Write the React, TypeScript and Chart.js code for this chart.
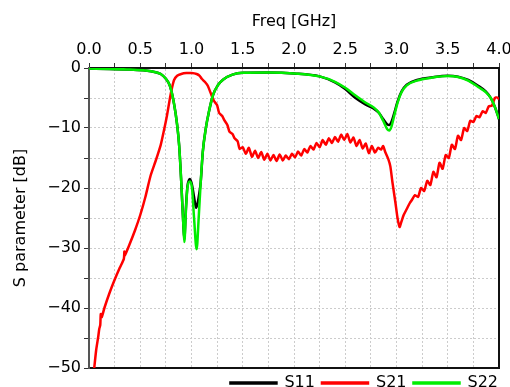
import React, { useEffect, useRef } from "react";
import { Chart, registerables } from "chart.js";

Chart.register(...registerables);

// ---- Data ----
const seriesNames = ["S11", "S21", "S22"];

const s22Freq = [0.0, 0.2, 0.4, 0.55, 0.65, 0.7, 0.75, 0.79, 0.83, 0.86, 0.88, 0.9, 0.92, 0.93, 0.945, 0.96, 0.985, 1.005, 1.025, 1.05, 1.07, 1.09, 1.11, 1.14, 1.17, 1.21, 1.26, 1.31, 1.4, 1.5, 1.75, 2.0, 2.25, 2.4, 2.5, 2.6, 2.7, 2.78, 2.83, 2.87, 2.91, 2.93, 2.95, 2.98, 3.01, 3.05, 3.1, 3.2, 3.35, 3.5, 3.6, 3.7, 3.8, 3.87, 3.92, 3.96, 4.0];
const s22Values = [-0.1, -0.15, -0.25, -0.4, -0.7, -1.0, -1.8, -3.0, -6.0, -9.5, -13.0, -19, -26, -29, -24, -20, -18.9, -20, -25, -30.2, -25, -19, -14, -10, -7.3, -4.5, -2.8, -1.9, -1.1, -0.8, -0.75, -0.9, -1.4, -2.3, -3.3, -4.6, -5.8, -6.6, -7.5, -8.8, -10.2, -10.4, -9.8, -7.8, -5.8, -4.0, -2.9, -2.1, -1.6, -1.35, -1.5, -2.1, -3.2, -4.0, -5.0, -6.5, -8.5];

const s11Freq = [0.0, 0.2, 0.4, 0.55, 0.65, 0.7, 0.75, 0.79, 0.83, 0.86, 0.88, 0.9, 0.92, 0.93, 0.945, 0.96, 0.985, 1.005, 1.025, 1.045, 1.06, 1.075, 1.09, 1.11, 1.14, 1.17, 1.21, 1.26, 1.31, 1.4, 1.5, 1.75, 2.0, 2.25, 2.4, 2.5, 2.6, 2.7, 2.78, 2.83, 2.87, 2.91, 2.93, 2.95, 2.98, 3.01, 3.05, 3.1, 3.2, 3.35, 3.5, 3.6, 3.7, 3.8, 3.87, 3.92, 3.96, 4.0];
const s11Values = [-0.1, -0.15, -0.25, -0.4, -0.7, -1.0, -1.8, -3.0, -6.0, -9.5, -13.0, -19, -26, -28.5, -23.5, -19.8, -18.5, -19.5, -21.5, -23.3, -22.5, -21, -19, -14, -10, -7.3, -4.5, -2.8, -1.9, -1.1, -0.8, -0.75, -0.9, -1.4, -2.4, -3.5, -5.0, -6.1, -6.8, -7.5, -8.5, -9.4, -9.5, -9.0, -7.4, -5.6, -3.9, -2.8, -2.0, -1.55, -1.3, -1.45, -2.0, -3.0, -3.9, -5.0, -6.5, -8.5];

const s21Freq = [0.045, 0.07, 0.09, 0.1, 0.11, 0.115, 0.125, 0.15, 0.2, 0.25, 0.3, 0.34, 0.345, 0.35, 0.4, 0.45, 0.5, 0.55, 0.6, 0.65, 0.7, 0.73, 0.76, 0.79, 0.81, 0.83, 0.86, 0.9, 0.95, 1.0, 1.05, 1.08, 1.1, 1.13, 1.16, 1.19, 1.22, 1.25, 1.27, 1.3, 1.32, 1.35, 1.37, 1.4, 1.42, 1.45, 1.47, 1.5, 1.53, 1.56, 1.59, 1.62, 1.65, 1.68, 1.71, 1.74, 1.77, 1.8, 1.83, 1.86, 1.89, 1.92, 1.95, 1.98, 2.01, 2.04, 2.07, 2.1, 2.13, 2.16, 2.19, 2.22, 2.25, 2.28, 2.31, 2.34, 2.37, 2.4, 2.43, 2.46, 2.49, 2.52, 2.55, 2.58, 2.61, 2.64, 2.67, 2.7, 2.73, 2.76, 2.79, 2.82, 2.85, 2.87, 2.89, 2.92, 2.94, 2.96, 2.99, 3.01, 3.03, 3.05, 3.07, 3.1, 3.13, 3.15, 3.18, 3.21, 3.24, 3.27, 3.3, 3.33, 3.36, 3.39, 3.42, 3.45, 3.48, 3.51, 3.54, 3.57, 3.6, 3.63, 3.66, 3.69, 3.72, 3.75, 3.78, 3.81, 3.84, 3.87, 3.9, 3.93, 3.96, 3.98, 4.0];
const s21Values = [-51, -47, -44.8, -43.5, -42.8, -41, -41.5, -40, -37.5, -35.3, -33.3, -31.8, -30.6, -31.2, -29.2, -27, -24.5, -21.5, -18, -15.5, -12.8, -10.5, -8, -5, -3.3, -2, -1.3, -1.0, -0.85, -0.85, -1.0, -1.3, -1.8, -2.3, -3, -4.3, -5.5, -6.2, -7.5, -8, -8.7, -9.5, -10.6, -11, -11.7, -12.2, -13.5, -13.2, -14.3, -13.3, -14.8, -13.8, -15.0, -14.0, -15.3, -14.3, -15.4, -14.5, -15.5, -14.4, -15.4, -14.6, -15.2, -14.3, -14.9, -13.9, -14.6, -13.5, -14.1, -13.0, -13.6, -12.5, -13.2, -12.0, -12.8, -11.7, -12.5, -11.5, -12.3, -11.1, -12.0, -11.0, -12.4, -11.6, -13.0, -12.0, -13.4, -12.6, -14.2, -13.0, -14.1, -13.3, -13.6, -13.0, -14.0, -15.2, -16.4, -19, -22.5, -25, -26.5, -25.5, -24.5, -23.5, -22.5, -22, -21.2, -21.5, -20.0, -20.5, -18.8, -19.5, -17.3, -18.2, -15.8, -16.8, -14.5, -15.0, -12.8, -13.5, -11.3, -12.0, -10.0, -10.5, -8.8, -9.0, -8.0, -8.2, -7.2, -7.5, -6.4, -6.3, -5.0, -4.9, -5.2];

const xTickStep = 0.25;
const yTickStep = 5;
const xMin = 0;
const xMax = 4;
const yMin = -50;
const yMax = 0;

const FONT = "'DejaVu Sans', sans-serif";

function toPoints(xs: number[], ys: number[]) {
  return xs.map((x, i) => ({ x, y: ys[i] }));
}

export default function App() {
  const ref = useRef<HTMLCanvasElement | null>(null);
  useEffect(() => {
    if (!ref.current) return;
    const gridCommon = {
      color: "#cccccc",
      lineWidth: 1,
      tickColor: "#333",
      tickBorderDash: [],
      tickLength: 5,
      tickWidth: 1,
    };
    const chart = new Chart(ref.current, {
      type: "line",
      data: {
        datasets: [
          {
            label: seriesNames[0],
            data: toPoints(s11Freq, s11Values),
            borderColor: "#000000",
            backgroundColor: "#000000",
            borderWidth: 2.5,
            pointRadius: 0,
            cubicInterpolationMode: "monotone",
            order: 2,
          },
          {
            label: seriesNames[1],
            data: toPoints(s21Freq, s21Values),
            borderColor: "#ff0000",
            backgroundColor: "#ff0000",
            borderWidth: 2.5,
            pointRadius: 0,
            tension: 0.2,
            order: 1,
          },
          {
            label: seriesNames[2],
            data: toPoints(s22Freq, s22Values),
            borderColor: "#00ee00",
            backgroundColor: "#00ee00",
            borderWidth: 2.5,
            pointRadius: 0,
            cubicInterpolationMode: "monotone",
            order: 0,
          },
        ],
      },
      options: {
        animation: false,
        responsive: false,
        layout: { padding: { left: 0, right: 5, top: 0, bottom: 0 } },
        plugins: {
          tooltip: { enabled: false },
          legend: {
            display: true,
            position: "bottom",
            align: "end",
            maxHeight: 19,
            labels: {
              boxWidth: 46,
              boxHeight: 1,
              padding: 7,
              color: "#000",
              font: { family: FONT, size: 16 },
              sort: (a: any, b: any) => a.datasetIndex - b.datasetIndex,
            },
          },
        },
        scales: {
          x: {
            type: "linear",
            position: "top",
            min: xMin,
            max: xMax,
            afterFit: (s: any) => {
              s.height = 68;
              s.paddingLeft = 0;
              s.paddingRight = 11;
            },
            ticks: {
              stepSize: xTickStep,
              autoSkip: false,
              maxRotation: 0,
              color: "#000",
              padding: 4,
              font: { family: FONT, size: 16 },
              callback: (v: any) => (Math.abs((v as number) * 2 - Math.round((v as number) * 2)) < 1e-6 ? (v as number).toFixed(1) : ""),
            },
            grid: gridCommon as any,
            border: { display: true, color: "#111", width: 2, dash: [2, 2] },
            title: {
              display: true,
              text: "Freq [GHz]",
              color: "#000",
              font: { family: FONT, size: 16 },
              padding: { top: 12, bottom: 0 },
            },
          },
          x2: {
            type: "linear",
            position: "bottom",
            min: xMin,
            max: xMax,
            afterFit: (s: any) => {
              s.height = 0;
              s.paddingLeft = 0;
              s.paddingRight = 0;
            },
            ticks: { display: false },
            grid: { display: false, drawTicks: false },
            border: { display: true, color: "#111", width: 2 },
          },
          y: {
            type: "linear",
            position: "left",
            min: yMin,
            max: yMax,
            afterFit: (s: any) => {
              s.width = 89;
            },
            ticks: {
              stepSize: yTickStep,
              autoSkip: false,
              color: "#000",
              padding: 3,
              font: { family: FONT, size: 16 },
              callback: (v: any) => {
                const n = v as number;
                if (n % 10 !== 0) return "";
                return n < 0 ? "\u2212" + Math.abs(n) : String(n);
              },
            },
            grid: gridCommon as any,
            border: { display: true, color: "#555", width: 2, dash: [2, 2] },
            title: {
              display: true,
              text: "S parameter [dB]",
              color: "#000",
              font: { family: FONT, size: 16 },
              padding: { top: 11, bottom: 0 },
            },
          },
          y2: {
            type: "linear",
            position: "right",
            min: yMin,
            max: yMax,
            afterFit: (s: any) => {
              s.width = 0;
              s.paddingTop = 0;
              s.paddingBottom = 0;
            },
            ticks: { display: false },
            grid: { display: false, drawTicks: false },
            border: { display: true, color: "#111", width: 2 },
          },
        },
      } as any,
    });
    return () => chart.destroy();
  }, []);
  return (
    <div style={{ position: "absolute", left: 0, top: 0, width: 510, height: 387, background: "#fff" }}>
      <canvas ref={ref} width={510} height={387} />
    </div>
  );
}
